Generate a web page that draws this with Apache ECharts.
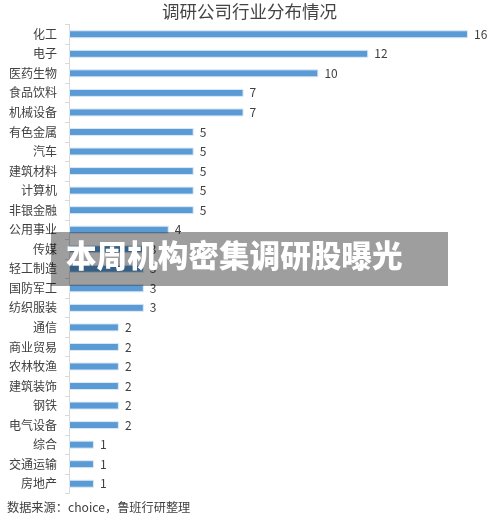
<!DOCTYPE html>
<html>
<head>
<meta charset="utf-8">
<style>
html, body { margin: 0; padding: 0; background: #fff; }
#container { width: 500px; height: 519px; }
</style>
<script src="https://cdn.jsdelivr.net/npm/echarts@6/dist/echarts.min.js"></script>
</head>
<body>
<div id="container"></div>
<script>
var titleText = '调研公司行业分布情况';
var sourceText = '数据来源：choice，鲁班行研整理';
var bannerText = '本周机构密集调研股曝光';
var industries = ['化工', '电子', '医药生物', '食品饮料', '机械设备', '有色金属', '汽车', '建筑材料',
    '计算机', '非银金融', '公用事业', '传媒', '轻工制造', '国防军工', '纺织服装', '通信',
    '商业贸易', '农林牧渔', '建筑装饰', '钢铁', '电气设备', '综合', '交通运输', '房地产'];
var counts = [16, 12, 10, 7, 7, 5, 5, 5, 5, 5, 4, 3, 3, 3, 3, 2, 2, 2, 2, 2, 2, 1, 1, 1];

var cjkFont = '"Noto Sans CJK SC", sans-serif';
var myChart = echarts.init(document.getElementById('container'), null, { renderer: 'canvas' });

var option = {
    animation: false,
    backgroundColor: '#ffffff',
    textStyle: { fontFamily: cjkFont },
    title: {
        text: titleText,
        left: 162,
        top: 3,
        padding: 0,
        textStyle: { fontFamily: cjkFont, fontSize: 17.5, fontWeight: 'normal', color: '#444444' }
    },
    grid: { left: 69, top: 24.5, width: 399, height: 469, containLabel: false },
    xAxis: { type: 'value', min: 0, max: 16, show: false },
    yAxis: {
        type: 'category',
        data: industries,
        inverse: true,
        axisLine: { lineStyle: { color: '#d9d9d9', width: 1 } },
        axisTick: { show: true, length: 4, alignWithLabel: false, lineStyle: { color: '#d9d9d9' } },
        axisLabel: { color: '#404040', fontSize: 12, margin: 12, interval: 0, fontFamily: cjkFont },
        splitLine: { show: false }
    },
    series: [{
        type: 'bar',
        data: counts,
        barWidth: 8,
        itemStyle: { color: '#5b9bd5', borderColor: '#dce9f6', borderWidth: 1 },
        label: {
            show: true,
            position: 'right',
            distance: 6,
            color: '#404040',
            fontSize: 12,
            fontFamily: cjkFont
        }
    }],
    graphic: [
        {
            type: 'text',
            left: 7,
            top: 501,
            style: { text: sourceText, fill: '#404040', fontSize: 12.2, fontFamily: cjkFont }
        },
        {
            type: 'rect',
            z: 100,
            shape: { x: 51, y: 232, width: 397, height: 54 },
            style: { fill: 'rgba(0,0,0,0.38)' }
        },
        {
            type: 'text',
            z: 101,
            left: 66,
            top: 240,
            style: {
                text: bannerText,
                fill: '#ffffff',
                shadowColor: '#ffffff',
                shadowBlur: 1,
                fontSize: 30.6,
                fontWeight: 900,
                fontFamily: cjkFont
            }
        }
    ]
};
myChart.setOption(option);
</script>
</body>
</html>
